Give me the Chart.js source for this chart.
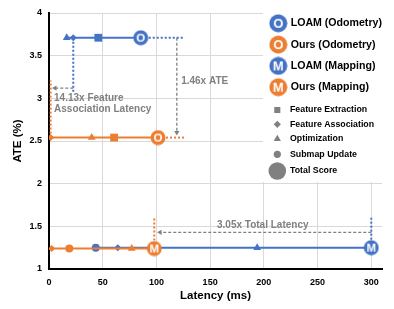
<!DOCTYPE html>
<html>
<head>
<meta charset="utf-8">
<script src="https://cdn.jsdelivr.net/npm/chart.js@4/dist/chart.umd.min.js"></script>
<style>
  html, body { margin: 0; padding: 0; background: #fff; }
</style>
</head>
<body>
<canvas id="myChart" width="394" height="309"></canvas>
<script>
const BLUE = "#4472C4";
const ORANGE = "#ED7D31";
const GRAY = "#808080";
const FONT = "'Liberation Sans', Arial, sans-serif";

// latency (ms) at each step and ATE (%) of each run
const loamOdomSteps = ["Optimization", "Feature Association", "Feature Extraction", "Total Score"];
const loamOdomLatency = [16.5, 22.6, 45.9, 85.4];
const loamOdomAte = 3.71;

const oursOdomSteps = ["Feature Association", "Optimization", "Feature Extraction", "Total Score"];
const oursOdomLatency = [1.5, 39.8, 60.6, 101.5];
const oursOdomAte = 2.54;

const loamMapSteps = ["Submap Update", "Feature Association", "Optimization", "Total Score"];
const loamMapLatency = [43.5, 64, 193.8, 300];
const loamMapAte = 1.25;

const oursMapSteps = ["Feature Association", "Submap Update", "Optimization", "Total Score"];
const oursMapLatency = [2.5, 18.9, 77, 98];
const oursMapAte = 1.24;

const runNames = ["LOAM (Odometry)", "Ours (Odometry)", "LOAM (Mapping)", "Ours (Mapping)"];
const runLetters = ["O", "O", "M", "M"];
const stepNames = ["Feature Extraction", "Feature Association", "Optimization", "Submap Update", "Total Score"];

const xTicks = [0, 50, 100, 150, 200, 250, 300];
const yTicks = [1, 1.5, 2, 2.5, 3, 3.5, 4];

// helper lines in data units: [x1, y1, x2, y2]
const blueGuides = [[85.4, 3.71, 126, 3.71], [22.6, 3.71, 22.6, 3.07], [300, 1.25, 300, 1.6]];
const orangeGuides = [[101.5, 2.54, 126, 2.54], [1.5, 2.54, 1.5, 3.21], [98, 1.24, 98, 1.6]];
// gray arrows: [x1, y1, x2 (head), y2 (head), head rotation]
const arrows = [[119, 3.71, 119, 2.6, 180], [22.6, 3.12, 5.6, 3.12, 270], [300, 1.43, 103.4, 1.43, 270]];
const notes = [
  { lines: ["1.46x ATE"], x: 123, y: 3.195, align: "left" },
  { lines: ["14.13x Feature", "Association Latency"], x: 4.7, y: 3.0, align: "left" },
  { lines: ["3.05x Total Latency"], x: 199, y: 1.515, align: "center" },
];

const stepStyle = {
  "Feature Extraction": { style: "rect", r: 5.5, legendR: 4.3 },
  "Feature Association": { style: "rectRot", r: 3.5, legendR: 3.6 },
  "Optimization": { style: "triangle", r: 4.5, legendR: 4.2 },
  "Submap Update": { style: "circle", r: 4, legendR: 3.6 },
  "Total Score": { style: "circle", r: 7.5, legendR: 8.8 },
};

function makeIcon(color, letter, r, px) {
  const c = document.createElement("canvas");
  const s = Math.ceil(r * 2) + 1;
  c.width = s;
  c.height = s;
  const g = c.getContext("2d");
  g.fillStyle = color;
  g.beginPath();
  g.arc(s / 2, s / 2, r, 0, Math.PI * 2);
  g.fill();
  g.fillStyle = "#fff";
  g.font = "bold " + px + "px " + FONT;
  g.textAlign = "center";
  g.textBaseline = "middle";
  g.fillText(letter, s / 2, s / 2 + 0.5);
  return c;
}

function runDataset(name, steps, latency, ate, color, letter, order) {
  const icon = makeIcon(color, letter, 7.5, 11.5);
  return {
    label: name,
    data: latency.map((v) => ({ x: v, y: ate })),
    borderColor: color,
    backgroundColor: color,
    borderWidth: 2,
    pointStyle: steps.map((s) => (s === "Total Score" ? icon : stepStyle[s].style)),
    pointRadius: steps.map((s) => stepStyle[s].r),
    pointBackgroundColor: color,
    pointBorderWidth: 0,
    order: order,
  };
}

function guideDataset(g, color) {
  return {
    data: [{ x: g[0], y: g[1] }, { x: g[2], y: g[3] }],
    borderColor: color,
    borderWidth: 2,
    borderDash: [2, 2],
    pointRadius: 0,
    order: 5,
  };
}

function arrowDataset(a) {
  return {
    data: [{ x: a[0], y: a[1] }, { x: a[2], y: a[3] }],
    borderColor: GRAY,
    borderWidth: 1.3,
    borderDash: [3, 2],
    pointStyle: "triangle",
    pointRadius: [0, 3],
    pointRotation: [0, a[4]],
    pointBackgroundColor: GRAY,
    pointBorderWidth: 0,
    order: 6,
  };
}

const datasets = [
  runDataset(runNames[0], loamOdomSteps, loamOdomLatency, loamOdomAte, BLUE, runLetters[0], 1),
  runDataset(runNames[1], oursOdomSteps, oursOdomLatency, oursOdomAte, ORANGE, runLetters[1], 1),
  runDataset(runNames[2], loamMapSteps, loamMapLatency, loamMapAte, BLUE, runLetters[2], 2),
  runDataset(runNames[3], oursMapSteps, oursMapLatency, oursMapAte, ORANGE, runLetters[3], 1),
];
blueGuides.forEach((g) => datasets.push(guideDataset(g, BLUE)));
orangeGuides.forEach((g) => datasets.push(guideDataset(g, ORANGE)));
arrows.forEach((a) => datasets.push(arrowDataset(a)));

const notesPlugin = {
  id: "notes",
  afterDatasetsDraw(chart) {
    const ctx = chart.ctx;
    const xs = chart.scales.x;
    const ys = chart.scales.y;
    ctx.save();
    ctx.fillStyle = GRAY;
    ctx.font = "bold 10px " + FONT;
    ctx.textBaseline = "middle";
    notes.forEach((n) => {
      ctx.textAlign = n.align;
      n.lines.forEach((line, i) => {
        ctx.fillText(line, xs.getPixelForValue(n.x), ys.getPixelForValue(n.y) + i * 10.7);
      });
    });
    ctx.restore();
  },
};

function drawMarker(ctx, style, r, x, y) {
  ctx.beginPath();
  if (style === "rect") {
    const s = r * Math.SQRT1_2;
    ctx.rect(x - s, y - s, 2 * s, 2 * s);
  } else if (style === "rectRot") {
    ctx.moveTo(x, y - r);
    ctx.lineTo(x + r, y);
    ctx.lineTo(x, y + r);
    ctx.lineTo(x - r, y);
    ctx.closePath();
  } else if (style === "triangle") {
    for (let k = 0; k < 3; k++) {
      const a = (k * 2 * Math.PI) / 3;
      const px = x + Math.sin(a) * r;
      const py = y - Math.cos(a) * r;
      if (k === 0) ctx.moveTo(px, py);
      else ctx.lineTo(px, py);
    }
    ctx.closePath();
  } else {
    ctx.arc(x, y, r, 0, Math.PI * 2);
  }
  ctx.fill();
}

const legendPlugin = {
  id: "sideLegend",
  afterDraw(chart) {
    const ctx = chart.ctx;
    const colors = [BLUE, ORANGE, BLUE, ORANGE];
    ctx.save();
    ctx.fillStyle = "#fff";
    ctx.fillRect(263, 0, chart.chartArea.right - 262, 182);
    ctx.textBaseline = "middle";
    runNames.forEach((name, i) => {
      const y = 23.3 + i * 21.3;
      const icon = makeIcon(colors[i], runLetters[i], 9, 13);
      ctx.drawImage(icon, 278.3 - icon.width / 2, y - icon.height / 2);
      ctx.fillStyle = "#000";
      ctx.textAlign = "left";
      ctx.font = "bold 10.6px " + FONT;
      ctx.fillText(name, 290.7, y);
    });
    const stepY = [110, 124.3, 139, 154.3, 171];
    stepNames.forEach((name, i) => {
      ctx.fillStyle = GRAY;
      drawMarker(ctx, stepStyle[name].style, stepStyle[name].legendR, 277.3, stepY[i]);
      ctx.fillStyle = "#000";
      ctx.font = "bold 8.8px " + FONT;
      ctx.fillText(name, 290, stepY[i]);
    });
    ctx.restore();
  },
};

new Chart(document.getElementById("myChart"), {
  type: "line",
  data: { datasets: datasets },
  options: {
    responsive: false,
    animation: false,
    devicePixelRatio: 1,
    layout: { padding: { top: 13, right: 12, left: 0, bottom: 0 } },
    plugins: { legend: { display: false }, tooltip: { enabled: false } },
    scales: {
      x: {
        type: "linear",
        min: 0,
        max: 310,
        afterBuildTicks: (s) => { s.ticks = xTicks.map((v) => ({ value: v })); },
        afterFit: (s) => { s.height = 40; },
        ticks: {
          font: { family: FONT, size: 9, weight: "bold" },
          color: "#000",
          padding: 8,
          maxRotation: 0,
          callback: (v) => String(v),
        },
        grid: { color: "#d9d9d9", drawTicks: false },
        border: { color: "#000", width: 2 },
        title: {
          display: true,
          text: "Latency (ms)",
          color: "#000",
          font: { family: FONT, size: 11.5, weight: "bold" },
          padding: { top: 0, bottom: 6.4 },
        },
      },
      y: {
        type: "linear",
        min: 1,
        max: 4,
        afterBuildTicks: (s) => { s.ticks = yTicks.map((v) => ({ value: v })); },
        afterFit: (s) => { s.width = 49; },
        ticks: {
          font: { family: FONT, size: 9, weight: "bold" },
          color: "#000",
          padding: 7,
          callback: (v) => String(v),
        },
        grid: { color: "#d9d9d9", drawTicks: false },
        border: { color: "#000", width: 2 },
        title: {
          display: true,
          text: "ATE (%)",
          color: "#000",
          font: { family: FONT, size: 11.5, weight: "bold" },
          padding: { top: 11, bottom: 0 },
        },
      },
    },
  },
  plugins: [notesPlugin, legendPlugin],
});
</script>
</body>
</html>
